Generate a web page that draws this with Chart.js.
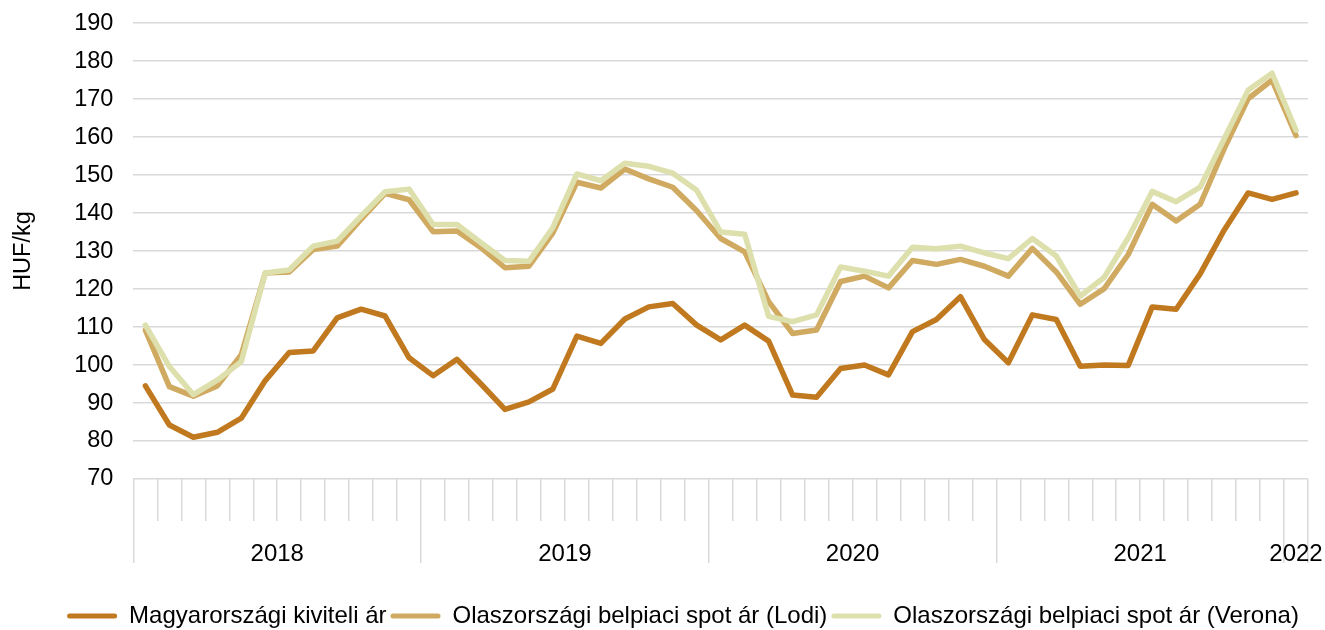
<!DOCTYPE html>
<html>
<head>
<meta charset="utf-8">
<script src="https://cdn.jsdelivr.net/npm/chart.js@4.4.1/dist/chart.umd.min.js"></script>
<style>
  html, body { margin: 0; padding: 0; background: #fff; }
  #wrap { width: 1325px; height: 630px; }
</style>
</head>
<body>
<div id="wrap"><canvas id="chart"></canvas></div>
<script>
const months = [
  `2018-01`, `2018-02`, `2018-03`, `2018-04`, `2018-05`, `2018-06`, `2018-07`, `2018-08`, `2018-09`, `2018-10`, `2018-11`, `2018-12`,
  `2019-01`, `2019-02`, `2019-03`, `2019-04`, `2019-05`, `2019-06`, `2019-07`, `2019-08`, `2019-09`, `2019-10`, `2019-11`, `2019-12`,
  `2020-01`, `2020-02`, `2020-03`, `2020-04`, `2020-05`, `2020-06`, `2020-07`, `2020-08`, `2020-09`, `2020-10`, `2020-11`, `2020-12`,
  `2021-01`, `2021-02`, `2021-03`, `2021-04`, `2021-05`, `2021-06`, `2021-07`, `2021-08`, `2021-09`, `2021-10`, `2021-11`, `2021-12`,
  `2022-01`,
];
const years = [`2018`, `2019`, `2020`, `2021`, `2022`];
const monthsPerYear = [12, 12, 12, 12, 1];

const hungaryExport = [
  94.5, 84.2, 81.0, 82.3, 86.0, 95.9, 103.3, 103.7, 112.4, 114.7, 112.9, 101.9,
  97.2, 101.5, 95.0, 88.3, 90.3, 93.7, 107.6, 105.7, 112.1, 115.3, 116.2, 110.5,
  106.6, 110.5, 106.3, 92.1, 91.5, 99.1, 100.0, 97.4, 108.8, 112.0, 118.0, 106.7,
  100.6, 113.2, 112.0, 99.7, 100.0, 99.9, 115.3, 114.7, 124.0, 135.5, 145.3, 143.6,
  145.3,
];
const italyLodi = [
  109.2, 94.3, 91.8, 94.5, 102.7, 124.2, 124.5, 130.4, 131.3, 138.4, 145.2, 143.5,
  135.1, 135.3, 130.9, 125.6, 126.0, 134.8, 148.1, 146.6, 151.6, 149.0, 146.8, 140.6,
  133.3, 129.8, 116.7, 108.3, 109.2, 122.0, 123.4, 120.3, 127.5, 126.5, 127.8, 126.0,
  123.4, 130.7, 124.5, 116.0, 120.1, 129.1, 142.3, 137.9, 142.3, 156.9, 170.1, 175.0,
  160.4,
];
const italyVerona = [
  110.5, 99.6, 92.2, 96.0, 100.9, 124.2, 125.0, 131.3, 132.6, 139.2, 145.6, 146.3,
  137.0, 137.0, 132.2, 127.5, 127.3, 136.2, 150.3, 148.5, 153.1, 152.3, 150.5, 146.0,
  135.0, 134.4, 112.8, 111.4, 113.2, 125.8, 124.7, 123.4, 131.0, 130.6, 131.3, 129.5,
  128.0, 133.3, 128.7, 118.1, 123.1, 133.5, 145.7, 143.0, 146.8, 159.5, 172.3, 176.8,
  161.8,
];

const seriesNames = [
  `Magyarországi kiviteli ár`,
  `Olaszországi belpiaci spot ár (Lodi)`,
  `Olaszországi belpiaci spot ár (Verona)`,
];
const seriesColors = [`#C0791F`, `#D0AA60`, `#DDE0AC`];
const gridColor = `#D9D9D9`;
const font = `'Liberation Sans', Arial, sans-serif`;

// year band edges and middles on the month index scale
let yearEdges = [-0.5];
let yearMiddles = [];
let start = -0.5;
for (let i in monthsPerYear) {
  yearMiddles.push(start + monthsPerYear[i] / 2);
  start += monthsPerYear[i];
  yearEdges.push(start);
}

// the legend row sits a bit right of the centre in the original
const legendShift = {
  id: `legendShift`,
  afterLayout(chart) {
    chart.legend.left += 29;
    chart.legend.right += 29;
  },
};

Chart.defaults.font.family = font;
Chart.defaults.font.size = 23.5;
Chart.defaults.color = `#000`;

const ctx = document.getElementById(`chart`).getContext(`2d`);
const myChart = new Chart(ctx, {
  type: `line`,
  data: {
    labels: months,
    datasets: [
      { label: seriesNames[0], data: hungaryExport, borderColor: seriesColors[0], order: 2 },
      { label: seriesNames[1], data: italyLodi, borderColor: seriesColors[1], order: 1 },
      { label: seriesNames[2], data: italyVerona, borderColor: seriesColors[2], order: 0 },
    ],
  },
  plugins: [legendShift],
  options: {
    responsive: true,
    maintainAspectRatio: false,
    animation: false,
    layout: { padding: { top: 0, right: 17, left: 0, bottom: -8 } },
    elements: {
      line: { borderWidth: 5.5, tension: 0, borderJoinStyle: `round`, borderCapStyle: `round` },
      point: { radius: 0, hoverRadius: 0 },
    },
    plugins: {
      tooltip: { enabled: false },
      legend: {
        position: `bottom`,
        labels: {
          boxWidth: 50,
          boxHeight: 5,
          padding: 4,
          font: { size: 24 },
          generateLabels: (chart) =>
            chart.data.datasets.map((ds, i) => ({
              text: ds.label,
              fillStyle: ds.borderColor,
              strokeStyle: ds.borderColor,
              lineWidth: 0,
              borderRadius: 2.5,
              datasetIndex: i,
              hidden: false,
            })),
        },
      },
    },
    scales: {
      y: {
        min: 70,
        max: 190,
        ticks: { stepSize: 10, padding: 9 },
        grid: { color: gridColor, lineWidth: 1.5, drawTicks: true, tickLength: 11, tickColor: `rgba(0,0,0,0)` },
        border: { display: false },
        title: { display: true, text: `HUF/kg`, padding: { top: 9, bottom: 28 } },
      },
      x: {
        type: `category`,
        offset: true,
        ticks: { display: false, autoSkip: false },
        grid: { drawOnChartArea: false, color: gridColor, lineWidth: 1.5, tickLength: 42, offset: true },
        border: { display: false },
        afterFit: (scale) => {
          scale.height = 42;
        },
      },
      x2: {
        type: `linear`,
        position: `bottom`,
        min: -0.5,
        max: months.length - 0.5,
        afterBuildTicks: (scale) => {
          let ticks = yearEdges.map((v) => ({ value: v }));
          yearMiddles.forEach((v) => ticks.push({ value: v }));
          scale.ticks = ticks;
        },
        afterFit: (scale) => {
          scale.height = 79;
        },
        ticks: {
          autoSkip: false,
          maxRotation: 0,
          padding: -23,
          font: { size: 24 },
          callback: (value) => {
            const k = yearMiddles.indexOf(value);
            return k >= 0 ? years[k] : ``;
          },
        },
        grid: {
          drawOnChartArea: false,
          tickLength: 42,
          lineWidth: 1.5,
          color: (c) => (c.tick && yearEdges.includes(c.tick.value) ? gridColor : `rgba(0,0,0,0)`),
        },
        border: { display: false },
      },
    },
  },
});
</script>
</body>
</html>
